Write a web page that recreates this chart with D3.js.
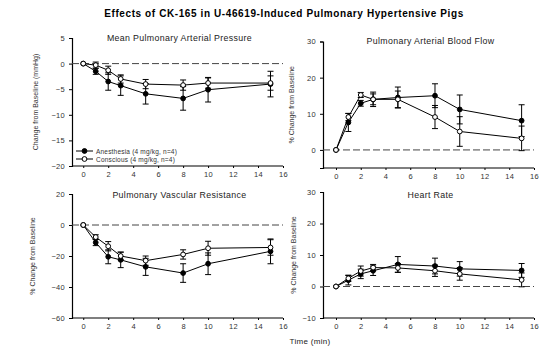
<!DOCTYPE html>
<html>
<head>
<meta charset="utf-8">
<script src="https://cdn.jsdelivr.net/npm/d3@7"></script>
<style>
  body { margin: 0; background: #fff; }
  svg { font-family: "Liberation Sans", Arial, sans-serif; }
</style>
</head>
<body>
<div id="chart"></div>
<script>
// tiempos de medida (min)
const times = [0, 1, 2, 3, 5, 8, 10, 15];
const xTicks = [0, 2, 4, 6, 8, 10, 12, 14, 16];

// Mean Pulmonary Arterial Pressure (mmHg)
const mpapAnes = [0, -1.5, -3.5, -4.3, -5.9, -6.8, -5.1, -4.0];
const mpapAnesErr = [0, 0.6, 1.7, 1.9, 2.0, 2.3, 2.4, 2.5];
const mpapCons = [0, -0.3, -1.3, -3.0, -4.0, -4.2, -3.8, -3.8];
const mpapConsErr = [0, 0.6, 0.8, 0.8, 0.9, 1.0, 1.0, 1.4];

// Pulmonary Arterial Blood Flow (%)
const pabfAnes = [0, 7.6, 12.9, 14.0, 14.5, 15.0, 11.2, 8.1];
const pabfAnesErr = [0, 2.5, 0.8, 2.0, 2.9, 3.3, 4.0, 4.4];
const pabfCons = [0, 9.1, 15.2, 14.0, 14.0, 9.1, 5.1, 3.2];
const pabfConsErr = [0, 1.0, 0.7, 1.5, 2.3, 3.2, 4.1, 3.4];

// Pulmonary Vascular Resistance (%)
const pvrAnes = [0, -11.3, -20.5, -22.5, -27, -31, -25, -17];
const pvrAnesErr = [0, 2, 4.5, 5, 5.5, 6, 7, 8];
const pvrCons = [0, -7.8, -13.7, -20, -23, -19, -15, -14.5];
const pvrConsErr = [0, 1.5, 3, 2.5, 3, 3, 4.5, 5];

// Heart Rate (%)
const hrAnes = [0, 2.0, 4.0, 5.0, 7.0, 6.5, 5.6, 5.1];
const hrAnesErr = [0, 1.5, 1.5, 1.5, 2.5, 2.5, 2.3, 2.2];
const hrCons = [0, 2.6, 4.9, 6.0, 5.9, 5.0, 4.0, 2.1];
const hrConsErr = [0, 1.0, 1.6, 1.0, 1.4, 1.8, 2.0, 2.2];

const legendLabels = ["Anesthesia (4 mg/kg, n=4)", "Conscious (4 mg/kg, n=4)"];

const width = 549, height = 355;
const svg = d3.select('#chart').append('svg')
  .attr('width', width)
  .attr('height', height);

svg.append('text')
  .attr('x', 284).attr('y', 17)
  .attr('text-anchor', 'middle')
  .attr('font-size', '10px')
  .attr('font-weight', 'bold')
  .attr('letter-spacing', '0.6px')
  .text('Effects of CK-165 in U-46619-Induced Pulmonary Hypertensive Pigs');

const panels = [
  { title: 'Mean Pulmonary Arterial Pressure', ylabel: 'Change from Baseline (mmHg)',
    xr: [72, 283], xd: [-0.9, 16], yr: [166, 38], yd: [-20, 5], yticks: [-20, -15, -10, -5, 0, 5],
    titleY: 41, labelX: 38,
    anes: mpapAnes, anesErr: mpapAnesErr, cons: mpapCons, consErr: mpapConsErr, legend: true },
  { title: 'Pulmonary Arterial Blood Flow', ylabel: '% Change from Baseline',
    xr: [323, 534], xd: [-1.05, 16], yr: [168, 41.5], yd: [-5, 30], yticks: [0, 10, 20, 30],
    titleY: 44, labelX: 294,
    anes: pabfAnes, anesErr: pabfAnesErr, cons: pabfCons, consErr: pabfConsErr },
  { title: 'Pulmonary Vascular Resistance', ylabel: '% Change from Baseline',
    xr: [72, 283], xd: [-0.9, 16], yr: [318, 194], yd: [-60, 20], yticks: [-60, -40, -20, 0, 20],
    titleY: 198, labelX: 35,
    anes: pvrAnes, anesErr: pvrAnesErr, cons: pvrCons, consErr: pvrConsErr },
  { title: 'Heart Rate', ylabel: '% Change from Baseline',
    xr: [323, 534], xd: [-1.05, 16], yr: [318, 192], yd: [-10, 30], yticks: [-10, 0, 10, 20, 30],
    titleY: 198, labelX: 296,
    anes: hrAnes, anesErr: hrAnesErr, cons: hrCons, consErr: hrConsErr }
];

panels.forEach(p => {
  const x = d3.scaleLinear().domain(p.xd).range(p.xr);
  const y = d3.scaleLinear().domain(p.yd).range(p.yr);
  const g = svg.append('g');

  // ejes
  const yAxis = g.append('g')
    .attr('transform', `translate(${p.xr[0]},0)`)
    .call(d3.axisLeft(y).tickValues(p.yticks).tickSize(3).tickPadding(4));
  const xAxis = g.append('g')
    .attr('transform', `translate(0,${p.yr[0]})`)
    .call(d3.axisBottom(x).tickValues(xTicks).tickSize(2).tickPadding(4).tickSizeOuter(0));
  [yAxis, xAxis].forEach(a => {
    a.select('.domain').attr('stroke', '#000').attr('stroke-width', 1.2);
    a.selectAll('.tick line').attr('stroke', '#000');
    a.selectAll('.tick text').attr('font-size', '7.5px').attr('fill', '#333')
      .attr('letter-spacing', '0.3px')
      .attr('font-family', '"Liberation Sans", Arial, sans-serif');
  });
  xAxis.select('.domain').attr('d', `M${p.xr[0]},0H${x(16)}`);

  // título del panel
  g.append('text')
    .attr('x', (p.xr[0] + p.xr[1]) / 2 + 2).attr('y', p.titleY)
    .attr('text-anchor', 'middle')
    .attr('font-size', '8.8px')
    .attr('letter-spacing', '0.35px')
    .attr('fill', '#222')
    .text(p.title);

  g.append('text')
    .attr('transform', `translate(${p.labelX},${(p.yr[0] + p.yr[1]) / 2}) rotate(-90)`)
    .attr('text-anchor', 'middle')
    .attr('font-size', '7px')
    .attr('fill', '#333')
    .text(p.ylabel);

  // línea de referencia en cero
  g.append('line')
    .attr('x1', p.xr[0]).attr('x2', x(16))
    .attr('y1', y(0)).attr('y2', y(0))
    .attr('stroke', '#444')
    .attr('stroke-width', 1)
    .attr('stroke-dasharray', '7,3');

  const series = [
    { vals: p.anes, errs: p.anesErr, fill: '#000' },
    { vals: p.cons, errs: p.consErr, fill: '#fff' }
  ];

  series.forEach(s => {
    const pts = times.map((t, i) => ({ t, v: s.vals[i], e: s.errs[i] }));
    const eb = g.append('g');
    pts.filter(d => d.e > 0).forEach(d => {
      eb.append('line')
        .attr('x1', x(d.t)).attr('x2', x(d.t))
        .attr('y1', y(d.v - d.e)).attr('y2', y(d.v + d.e))
        .attr('stroke', '#000').attr('stroke-width', 1);
      [d.v - d.e, d.v + d.e].forEach(v => {
        eb.append('line')
          .attr('x1', x(d.t) - 3).attr('x2', x(d.t) + 3)
          .attr('y1', y(v)).attr('y2', y(v))
          .attr('stroke', '#000').attr('stroke-width', 1);
      });
    });
  });

  series.forEach(s => {
    const pts = times.map((t, i) => ({ t, v: s.vals[i] }));
    g.append('path')
      .datum(pts)
      .attr('fill', 'none')
      .attr('stroke', '#000')
      .attr('stroke-width', 1)
      .attr('d', d3.line().x(d => x(d.t)).y(d => y(d.v)));
  });

  series.forEach(s => {
    const pts = times.map((t, i) => ({ t, v: s.vals[i] }));
    g.selectAll(null)
      .data(pts)
      .enter().append('circle')
      .attr('cx', d => x(d.t))
      .attr('cy', d => y(d.v))
      .attr('r', 2.4)
      .attr('fill', s.fill)
      .attr('stroke', '#000')
      .attr('stroke-width', 1);
  });

  if (p.legend) {
    legendLabels.forEach((lab, i) => {
      const ly = 151 + i * 8;
      g.append('line')
        .attr('x1', 76).attr('x2', 93)
        .attr('y1', ly).attr('y2', ly)
        .attr('stroke', '#000');
      g.append('circle')
        .attr('cx', 84.5).attr('cy', ly).attr('r', 2.4)
        .attr('fill', i === 0 ? '#000' : '#fff')
        .attr('stroke', '#000');
      g.append('text')
        .attr('x', 96).attr('y', ly + 2.5)
        .attr('font-size', '6.5px')
        .attr('letter-spacing', '0.2px')
        .attr('fill', '#333')
        .text(lab);
    });
  }
});

svg.append('text')
  .attr('x', 310).attr('y', 344)
  .attr('text-anchor', 'middle')
  .attr('font-size', '8px')
  .attr('letter-spacing', '0.3px')
  .attr('fill', '#222')
  .text('Time (min)');
</script>
</body>
</html>
